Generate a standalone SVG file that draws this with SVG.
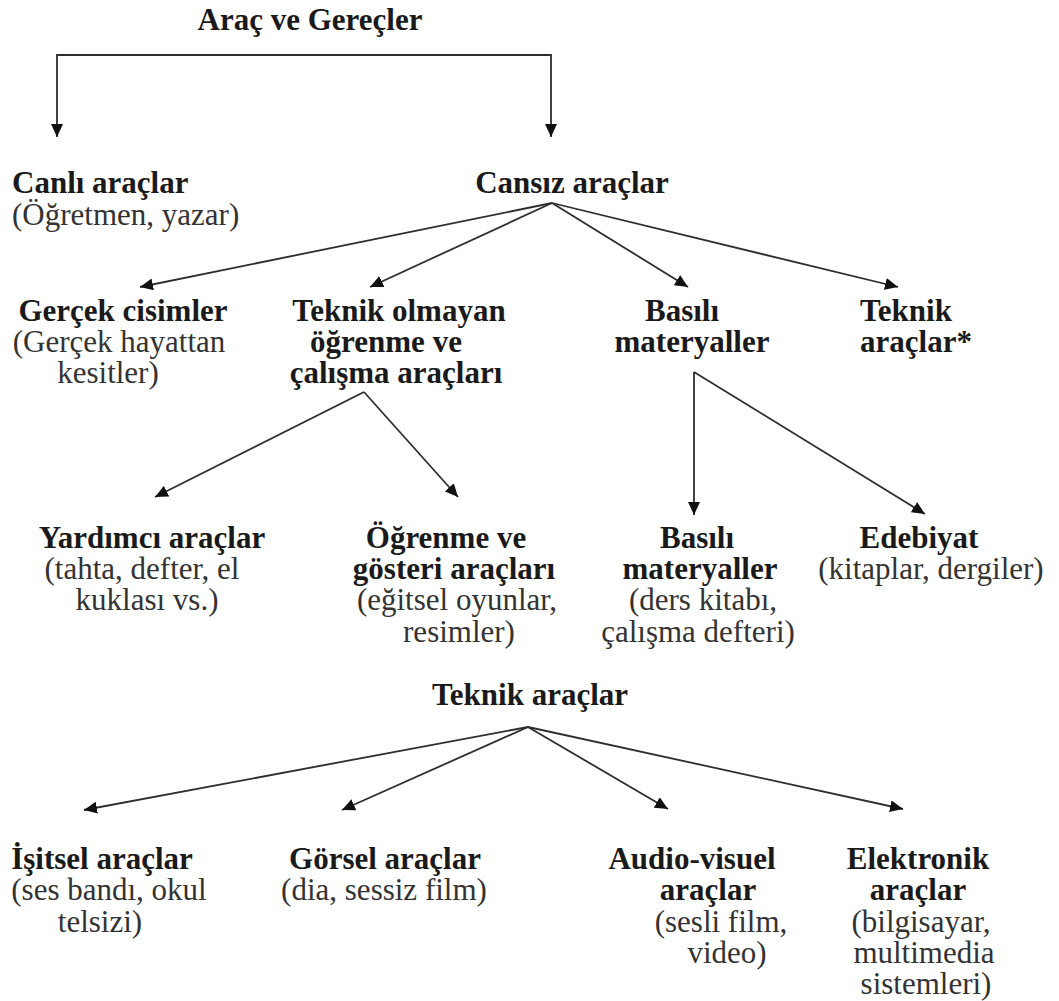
<svg xmlns="http://www.w3.org/2000/svg" width="1059" height="1001" viewBox="0 0 1059 1001">
<style>
text{font-family:"Liberation Serif","Times New Roman",serif;font-size:31px;fill:#333;text-anchor:middle}
.b{font-weight:bold;fill:#1a1a1a}
.s{text-anchor:start}
.c{fill:none;stroke:#2e2e2e;stroke-width:1.8;marker-end:url(#ah)}
</style>
<defs>
<marker id="ah" markerWidth="14" markerHeight="12" refX="13" refY="6" orient="auto" markerUnits="userSpaceOnUse">
<path d="M0,0 L13,6 L0,12 z" fill="#111"/>
</marker>
</defs>
<rect width="1059" height="1001" fill="#fff"/>
<g id="connectors">
<path class="c" d="M304,55 H57 V137"/>
<path class="c" d="M304,55 H551 V137"/>
<path class="c" d="M552,203 L140,287"/>
<path class="c" d="M552,203 L370,287"/>
<path class="c" d="M552,203 L688,287"/>
<path class="c" d="M552,203 L898,287"/>
<path class="c" d="M364,392 L155,497"/>
<path class="c" d="M364,392 L458,497"/>
<path class="c" d="M694,372 L694,515"/>
<path class="c" d="M694,372 L925,514"/>
<path class="c" d="M528,727 L84,810"/>
<path class="c" d="M528,727 L342,810"/>
<path class="c" d="M528,727 L668,809"/>
<path class="c" d="M528,727 L903,809"/>
</g>
<g id="n-root"><text class="b"><tspan x="310" y="30">Araç ve Gereçler</tspan></text></g>
<g id="n-canli"><text class="s"><tspan class="b" x="12" y="193">Canlı araçlar</tspan><tspan x="12" y="225">(Öğretmen, yazar)</tspan></text></g>
<g id="n-cansiz"><text class="b"><tspan x="572" y="193">Cansız araçlar</tspan></text></g>
<g id="n-gercek"><text><tspan class="b" x="123" y="321">Gerçek cisimler</tspan><tspan x="119" y="352">(Gerçek hayattan</tspan><tspan x="108" y="383">kesitler)</tspan></text></g>
<g id="n-teknikolmayan"><text class="b"><tspan x="399" y="321">Teknik olmayan</tspan><tspan x="386" y="352">öğrenme ve</tspan><tspan x="396" y="383">çalışma araçları</tspan></text></g>
<g id="n-basili1"><text class="b"><tspan x="682" y="321">Basılı</tspan><tspan x="692" y="352">materyaller</tspan></text></g>
<g id="n-teknik1"><text class="b s"><tspan x="860" y="321">Teknik</tspan><tspan x="860" y="352">araçlar*</tspan></text></g>
<g id="n-yardimci"><text><tspan class="b" x="152" y="548">Yardımcı araçlar</tspan><tspan x="142" y="579">(tahta, defter, el</tspan><tspan x="147" y="610">kuklası vs.)</tspan></text></g>
<g id="n-ogrenme"><text><tspan class="b" x="446" y="548">Öğrenme ve</tspan><tspan class="b" x="454" y="579">gösteri araçları</tspan><tspan x="457" y="610">(eğitsel oyunlar,</tspan><tspan x="459" y="642">resimler)</tspan></text></g>
<g id="n-basili2"><text><tspan class="b" x="697" y="548">Basılı</tspan><tspan class="b" x="700" y="579">materyaller</tspan><tspan x="703" y="610">(ders kitabı,</tspan><tspan x="698" y="642">çalışma defteri)</tspan></text></g>
<g id="n-edebiyat"><text><tspan class="b" x="919" y="548">Edebiyat</tspan><tspan x="931" y="579">(kitaplar, dergiler)</tspan></text></g>
<g id="n-teknik2"><text class="b"><tspan x="530" y="705">Teknik araçlar</tspan></text></g>
<g id="n-isitsel"><text><tspan class="b" x="102" y="869">İşitsel araçlar</tspan><tspan x="109" y="900">(ses bandı, okul</tspan><tspan x="100" y="932">telsizi)</tspan></text></g>
<g id="n-gorsel"><text><tspan class="b" x="385" y="869">Görsel araçlar</tspan><tspan x="384" y="900">(dia, sessiz film)</tspan></text></g>
<g id="n-audio"><text><tspan class="b" x="692" y="869">Audio-visuel</tspan><tspan class="b" x="708" y="900">araçlar</tspan><tspan x="721" y="932">(sesli film,</tspan><tspan x="727" y="963">video)</tspan></text></g>
<g id="n-elektronik"><text><tspan class="b" x="918" y="869">Elektronik</tspan><tspan class="b" x="918" y="900">araçlar</tspan><tspan x="921" y="932">(bilgisayar,</tspan><tspan x="924" y="963">multimedia</tspan><tspan x="926" y="994">sistemleri)</tspan></text></g>
</svg>
